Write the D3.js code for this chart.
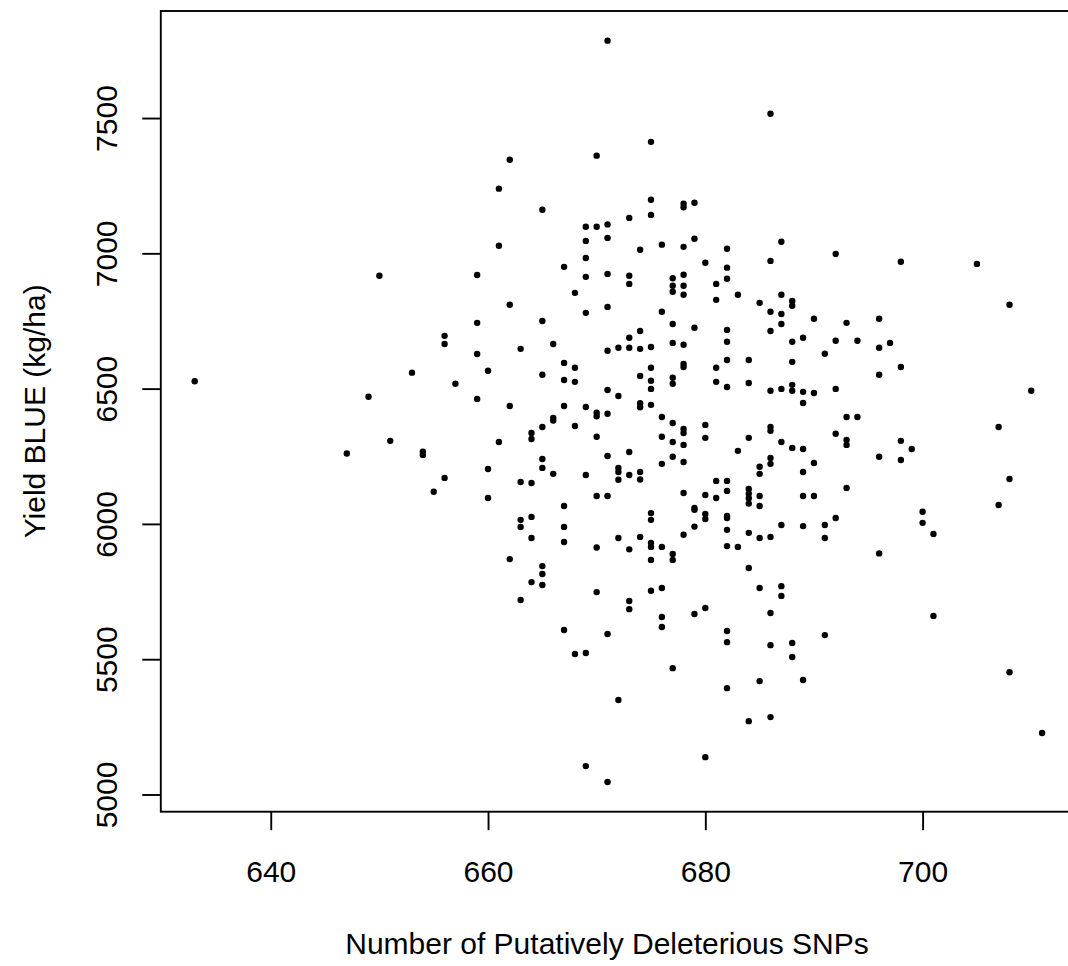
<!DOCTYPE html>
<html><head><meta charset="utf-8">
<script src="https://cdn.jsdelivr.net/npm/d3@7"></script>
<style>html,body{margin:0;padding:0;background:#fff;overflow:hidden;} svg{display:block;}</style>
</head><body>
<script>
// Number of putatively deleterious SNPs (x) and the yield BLUEs (kg/ha) observed at each count
const snpCounts = [633, 647, 649, 650, 651, 653, 654, 655, 656, 657, 659, 660, 661, 662, 663, 664, 665, 666, 667, 668,
  669, 670, 671, 672, 673, 674, 675, 676, 677, 678, 679, 680, 681, 682, 683, 684, 685, 686, 687, 688,
  689, 690, 691, 692, 693, 694, 696, 697, 698, 699, 700, 701, 705, 707, 708, 710, 711];
const yieldBLUE = [
  [6527], [6260], [6470], [6917], [6307], [6559], [6267, 6255], [6119], [6695, 6665, 6170], [6518],
  [6920, 6743, 6628, 6462], [6566, 6203, 6096], [7239, 7028, 6303], [7346, 6810, 6436, 5870],
  [6647, 6155, 6015, 5989, 5719], [6336, 6314, 6151, 6026, 5948, 5785],
  [7161, 6750, 6551, 6358, 6240, 6207, 5844, 5815, 5774], [6665, 6392, 6382, 6185],
  [6950, 6595, 6532, 6436, 6066, 5989, 5933, 5608], [6854, 6577, 6525, 6362, 5519],
  [7098, 7046, 6983, 6913, 6780, 6432, 6181, 5523, 5105],
  [7361, 7098, 6411, 6398, 6322, 6103, 5913, 5748],
  [7786, 7107, 7057, 6924, 6802, 6640, 6495, 6407, 6251, 6103, 5593, 5046],
  [6651, 6473, 6207, 6192, 6163, 5948, 5349],
  [7131, 6917, 6887, 6688, 6651, 6266, 6181, 5906, 5715, 5685],
  [7013, 6713, 6647, 6547, 6446, 6431, 6192, 6164, 5952],
  [7412, 7198, 7142, 6654, 6577, 6529, 6499, 6440, 6040, 6015, 5930, 5915, 5867, 5753],
  [7032, 6784, 6395, 6322, 6222, 5915, 5763, 5656, 5619],
  [6908, 6880, 6858, 6739, 6669, 6540, 6518, 6373, 6303, 6248, 5889, 5867, 5467],
  [7183, 7170, 7024, 6921, 6880, 6847, 6662, 6591, 6580, 6351, 6336, 6292, 6229, 6114, 5960],
  [7187, 7054, 6725, 6059, 6052, 5990, 5667],
  [6965, 6366, 6318, 6107, 6037, 6018, 5689, 5138],
  [6887, 6828, 6577, 6525, 6159, 6096],
  [7017, 6947, 6906, 6717, 6673, 6606, 6506, 6159, 6122, 6029, 6022, 5978, 5918, 5604, 5563, 5393],
  [6847, 6270, 5915],
  [6606, 6521, 6318, 6129, 6112, 6095, 6075, 5967, 5837, 5271],
  [6817, 6211, 6185, 6103, 6066, 5948, 5763, 5419],
  [7516, 6972, 6784, 6713, 6492, 6358, 6344, 6244, 6222, 5952, 5671, 5552, 5286],
  [7043, 6847, 6776, 6739, 6499, 6303, 5996, 5770, 5734],
  [6824, 6806, 6673, 6599, 6514, 6492, 6281, 5560, 5508],
  [6688, 6488, 6447, 6277, 6192, 6103, 5992, 5423],
  [6758, 6484, 6225, 6103],
  [6629, 5996, 5948, 5589],
  [6998, 6677, 6499, 6333, 6022],
  [6743, 6395, 6310, 6292, 6133],
  [6677, 6395],
  [6758, 6651, 6551, 6248, 5891],
  [6669],
  [6969, 6580, 6307, 6236],
  [6277],
  [6045, 6004],
  [5963, 5660],
  [6961],
  [6358, 6070],
  [6810, 6166, 5452],
  [6492],
  [5227]
];
const xTickValues = [640, 660, 680, 700];
const yTickValues = [5000, 5500, 6000, 6500, 7000, 7500];
const xTitle = "Number of Putatively Deleterious SNPs";
const yTitle = "Yield BLUE (kg/ha)";

const W = 1068, H = 966;
const plot = {left: 160.8, right: 1076, top: 11, bottom: 811.7};
const FONT = "'Liberation Sans', Arial, Helvetica, sans-serif";

const points = snpCounts.flatMap((s, i) => yieldBLUE[i].map(v => ({x: s, y: v})));
const pad = ext => { const r = ext[1] - ext[0]; return [ext[0] - 0.04 * r, ext[1] + 0.04 * r]; };

const x = d3.scaleLinear().domain(pad(d3.extent(points, d => d.x))).range([plot.left, plot.right]);
const y = d3.scaleLinear().domain(pad(d3.extent(points, d => d.y))).range([plot.bottom, plot.top]);

const svg = d3.select("body").append("svg").attr("width", W).attr("height", H)
  .style("font-family", FONT);

// points
svg.append("g").selectAll("circle").data(points).join("circle")
  .attr("cx", d => x(d.x)).attr("cy", d => y(d.y)).attr("r", 3.2).attr("fill", "#000");

// x axis
const gx = svg.append("g").attr("transform", `translate(0,${plot.bottom})`)
  .call(d3.axisBottom(x).tickValues(xTickValues).tickSize(18.5).tickFormat(d3.format("d")));
gx.select(".domain").remove();
gx.selectAll(".tick line").attr("stroke", "#000").attr("stroke-width", 1.9);
gx.selectAll(".tick text").attr("y", 70).attr("dy", null)
  .attr("font-size", 30).attr("font-family", FONT).attr("fill", "#000");

// y axis
const gy = svg.append("g").attr("transform", `translate(${plot.left},0)`)
  .call(d3.axisLeft(y).tickValues(yTickValues).tickSize(18.5).tickFormat(d3.format("d")));
gy.select(".domain").remove();
gy.selectAll(".tick line").attr("stroke", "#000").attr("stroke-width", 1.9);
gy.selectAll(".tick text").attr("x", null).attr("dy", null).attr("text-anchor", "middle")
  .attr("transform", "translate(-44,0) rotate(-90)")
  .attr("font-size", 30).attr("font-family", FONT).attr("fill", "#000");

// box
svg.append("rect").attr("x", plot.left).attr("y", plot.top)
  .attr("width", plot.right - plot.left).attr("height", plot.bottom - plot.top)
  .attr("fill", "none").attr("stroke", "#000").attr("stroke-width", 1.9);

// titles
svg.append("text").attr("x", 607).attr("y", 953.7)
  .attr("text-anchor", "middle").attr("font-size", 30).attr("fill", "#000").text(xTitle);
svg.append("text").attr("transform", `translate(45,${(plot.top + plot.bottom) / 2}) rotate(-90)`)
  .attr("text-anchor", "middle").attr("font-size", 30).attr("fill", "#000").text(yTitle);
</script>
</body></html>
